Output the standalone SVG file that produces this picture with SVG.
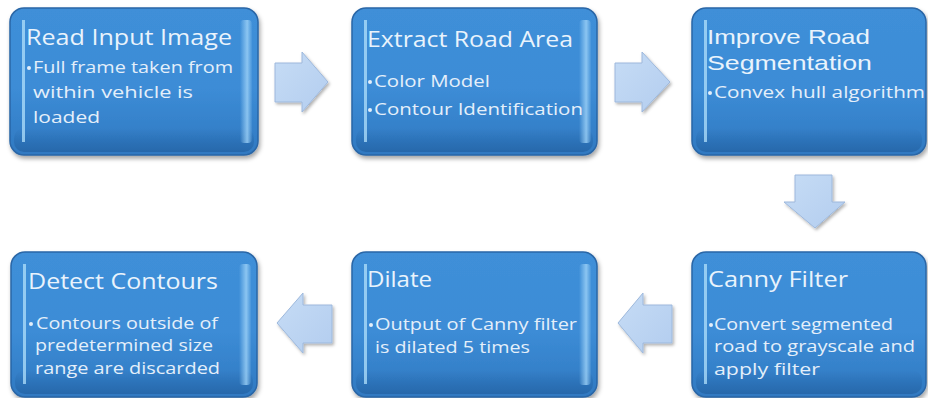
<svg xmlns="http://www.w3.org/2000/svg" width="928" height="398" viewBox="0 0 928 398">
<defs>
<linearGradient id="boxGrad" x1="0" y1="0" x2="0" y2="1">
<stop offset="0" stop-color="#3f8fd8"/>
<stop offset="0.55" stop-color="#3c8cd6"/>
<stop offset="1" stop-color="#3079c1"/>
</linearGradient>
<linearGradient id="rightGrad" x1="0" y1="0" x2="1" y2="0">
<stop offset="0" stop-color="#9fd3f8" stop-opacity="0"/>
<stop offset="0.6" stop-color="#9fd3f8" stop-opacity="0.8"/>
<stop offset="1" stop-color="#9fd3f8" stop-opacity="0.1"/>
</linearGradient>
<linearGradient id="bottomGrad" x1="0" y1="0" x2="0" y2="1">
<stop offset="0" stop-color="#1f5c9c" stop-opacity="0"/>
<stop offset="1" stop-color="#1f5c9c" stop-opacity="0.6"/>
</linearGradient>
<linearGradient id="arrowGrad" x1="0" y1="0" x2="1" y2="1">
<stop offset="0" stop-color="#c6dcf5"/>
<stop offset="1" stop-color="#b3cdef"/>
</linearGradient>
<filter id="shadow" x="-10%" y="-10%" width="125%" height="130%">
<feDropShadow dx="1.5" dy="3" stdDeviation="2" flood-color="#000" flood-opacity="0.35"/>
</filter>
<filter id="ashadow" x="-20%" y="-20%" width="150%" height="150%">
<feDropShadow dx="1.5" dy="2" stdDeviation="1.5" flood-color="#000" flood-opacity="0.3"/>
</filter>
</defs>
<style>
.box{fill:url(#boxGrad);stroke:#2a66a6;stroke-width:1.5;filter:url(#shadow)}
.lh{fill:#b2e0fb;opacity:0.75}
.rh{fill:url(#rightGrad)}
.bs{fill:url(#bottomGrad)}
.t{font-family:"Open Sans","Liberation Sans",sans-serif;font-size:22px;fill:#e9f3fc}
.t2{font-family:"Liberation Sans",sans-serif;font-size:21px;fill:#e9f3fc}
.b{font-family:"Open Sans","Liberation Sans",sans-serif;font-size:15.5px;fill:#e4effa}
.dot{fill:#e4effa}
.arrow{fill:url(#arrowGrad);stroke:#9db8dc;stroke-width:1;filter:url(#ashadow)}
</style>
<rect width="928" height="398" fill="#ffffff"/>

<g id="connectors">
<path class="arrow" d="M275,63 H302 V52 L328,82 L302,112 V102 H275 Z"/>
<path class="arrow" d="M615,63 H642 V52 L670,82 L642,112 V102 H615 Z"/>
<path class="arrow" d="M795,175 H832 V202 H845 L815,228 L784,202 H795 Z"/>
<path class="arrow" d="M672,305 H643 V293 L618,323 L643,353 V343 H672 Z"/>
<path class="arrow" d="M332,305 H303 V293 L277,323 L303,353 V343 H332 Z"/>
</g>

<g id="node-read">
<rect class="box" x="10" y="8" width="248" height="147" rx="14"/>
<rect class="bs" x="14" y="128" width="240" height="24" rx="10"/>
<rect class="rh" x="240" y="20" width="12" height="123" rx="4"/>
<rect class="lh" x="22" y="20" width="3" height="122"/>
<text class="t" x="26" y="45" textLength="206" lengthAdjust="spacingAndGlyphs">Read Input Image</text>
<circle class="dot" cx="29" cy="68" r="2"/>
<text class="b" x="33" y="73" textLength="200" lengthAdjust="spacingAndGlyphs">Full frame taken from</text>
<text class="b" x="33" y="98" textLength="160" lengthAdjust="spacingAndGlyphs">within vehicle is</text>
<text class="b" x="33" y="123" textLength="67" lengthAdjust="spacingAndGlyphs">loaded</text>
</g>

<g id="node-extract">
<rect class="box" x="352" y="8" width="245" height="147" rx="14"/>
<rect class="bs" x="356" y="128" width="237" height="24" rx="10"/>
<rect class="rh" x="579" y="20" width="12" height="123" rx="4"/>
<rect class="lh" x="364" y="20" width="3" height="122"/>
<text class="t" x="367" y="47" textLength="206" lengthAdjust="spacingAndGlyphs">Extract Road Area</text>
<circle class="dot" cx="370" cy="82" r="2"/>
<text class="b" x="374" y="87" textLength="116" lengthAdjust="spacingAndGlyphs">Color Model</text>
<circle class="dot" cx="370" cy="110" r="2"/>
<text class="b" x="374" y="115" textLength="209" lengthAdjust="spacingAndGlyphs">Contour Identification</text>
</g>

<g id="node-improve">
<rect class="box" x="692" y="8" width="234" height="147" rx="14"/>
<rect class="bs" x="696" y="128" width="226" height="24" rx="10"/>
<rect class="lh" x="704" y="20" width="3" height="122"/>
<text class="t2" x="707" y="44" textLength="163" lengthAdjust="spacingAndGlyphs">Improve Road</text>
<text class="t2" x="707" y="70" textLength="165" lengthAdjust="spacingAndGlyphs">Segmentation</text>
<circle class="dot" cx="710" cy="93" r="2"/>
<text class="b" x="714" y="98" textLength="211" lengthAdjust="spacingAndGlyphs">Convex hull algorithm</text>
</g>

<g id="node-canny">
<rect class="box" x="692" y="252" width="234" height="145" rx="14"/>
<rect class="bs" x="696" y="370" width="226" height="24" rx="10"/>
<rect class="lh" x="704" y="264" width="3" height="120"/>
<text class="t" x="708" y="287" textLength="140" lengthAdjust="spacingAndGlyphs">Canny Filter</text>
<circle class="dot" cx="711" cy="325" r="2"/>
<text class="b" x="714" y="330" textLength="179" lengthAdjust="spacingAndGlyphs">Convert segmented</text>
<text class="b" x="714" y="352" textLength="201" lengthAdjust="spacingAndGlyphs">road to grayscale and</text>
<text class="b" x="714" y="375" textLength="106" lengthAdjust="spacingAndGlyphs">apply filter</text>
</g>

<g id="node-dilate">
<rect class="box" x="352" y="252" width="245" height="145" rx="14"/>
<rect class="bs" x="356" y="370" width="237" height="24" rx="10"/>
<rect class="rh" x="579" y="264" width="12" height="121" rx="4"/>
<rect class="lh" x="364" y="264" width="3" height="120"/>
<text class="t" x="367" y="287" textLength="65" lengthAdjust="spacingAndGlyphs">Dilate</text>
<circle class="dot" cx="371" cy="325" r="2"/>
<text class="b" x="375" y="330" textLength="202" lengthAdjust="spacingAndGlyphs">Output of Canny filter</text>
<text class="b" x="375" y="353" textLength="155" lengthAdjust="spacingAndGlyphs">is dilated 5 times</text>
</g>

<g id="node-detect">
<rect class="box" x="11" y="252" width="246" height="145" rx="14"/>
<rect class="bs" x="15" y="370" width="238" height="24" rx="10"/>
<rect class="rh" x="239" y="264" width="12" height="121" rx="4"/>
<rect class="lh" x="23" y="264" width="3" height="120"/>
<text class="t" x="28" y="289" textLength="190" lengthAdjust="spacingAndGlyphs">Detect Contours</text>
<circle class="dot" cx="31" cy="324" r="2"/>
<text class="b" x="36" y="329" textLength="182" lengthAdjust="spacingAndGlyphs">Contours outside of</text>
<text class="b" x="35" y="351" textLength="178" lengthAdjust="spacingAndGlyphs">predetermined  size</text>
<text class="b" x="35" y="374" textLength="185" lengthAdjust="spacingAndGlyphs">range are discarded</text>
</g>
</svg>
